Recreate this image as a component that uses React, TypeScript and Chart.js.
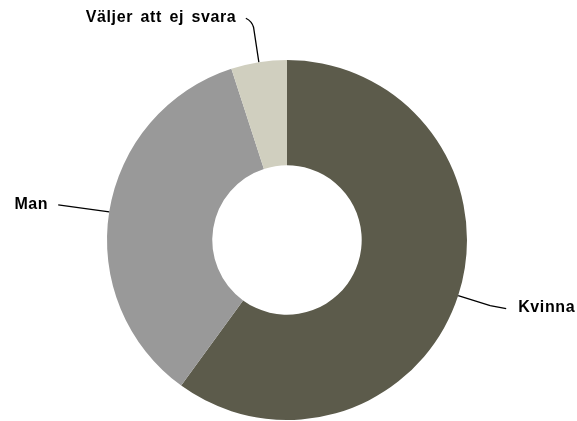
import React, { useEffect, useRef } from "react";
import { Chart, registerables } from "chart.js";

Chart.register(...registerables);

const categories = ["Kvinna", "Man", "Väljer att ej svara"];
const values = [60, 35, 5];
const colors = ["#5c5b4b", "#999999", "#d0cfbf"];

// leader-line routes relative to slice outer-edge midpoint
const leaderPaths: number[][][] = [
  [[32, 10], [48, 13]],
  [[-51, -7]],
  [[-5.3, -35], [-7, -41], [-13, -44]],
];
const labelOffsets: number[][] = [[60, 12], [-61, -7.5], [-22.5, -44.7]];
const labelAlign: CanvasTextAlign[] = ["left", "right", "right"];

const leaderPlugin = {
  id: "leaders",
  afterDraw(chart: any) {
    const ctx = chart.ctx as CanvasRenderingContext2D;
    const meta = chart.getDatasetMeta(0);
    meta.data.forEach((arc: any, i: number) => {
      const p = arc.getProps(["x", "y", "startAngle", "endAngle", "outerRadius"], true);
      const mid = (p.startAngle + p.endAngle) / 2;
      const sx = p.x + Math.cos(mid) * p.outerRadius;
      const sy = p.y + Math.sin(mid) * p.outerRadius;
      ctx.save();
      ctx.strokeStyle = "#000";
      ctx.lineWidth = 1.3;
      ctx.beginPath();
      ctx.moveTo(sx, sy);
      const path = leaderPaths[i];
      if (path.length === 3) {
        ctx.lineTo(sx + path[0][0], sy + path[0][1]);
        ctx.quadraticCurveTo(sx + path[1][0], sy + path[1][1], sx + path[2][0], sy + path[2][1]);
      } else {
        path.forEach((pt) => ctx.lineTo(sx + pt[0], sy + pt[1]));
      }
      ctx.stroke();
      ctx.fillStyle = "#000";
      ctx.font = "bold 16px 'Liberation Sans', Arial, sans-serif";
      (ctx as any).letterSpacing = "0.6px";
      (ctx as any).wordSpacing = "2.5px";
      ctx.textAlign = labelAlign[i];
      ctx.textBaseline = "middle";
      ctx.fillText(categories[i], sx + labelOffsets[i][0], sy + labelOffsets[i][1]);
      ctx.restore();
    });
  },
};

export default function App() {
  const ref = useRef<HTMLCanvasElement | null>(null);
  useEffect(() => {
    document.body.style.margin = "0";
    const chart = new Chart(ref.current!, {
      type: "doughnut",
      data: {
        labels: categories,
        datasets: [
          {
            data: values,
            backgroundColor: colors,
            borderWidth: 0,
          },
        ],
      },
      options: {
        responsive: false,
        animation: false,
        cutout: "41.5%",
        layout: { padding: { top: 60, bottom: 1, left: 107, right: 110 } },
        plugins: { legend: { display: false }, tooltip: { enabled: false } },
      },
      plugins: [leaderPlugin],
    });
    return () => chart.destroy();
  }, []);
  return (
    <div style={{ position: "absolute", left: 0, top: 0, width: 577, height: 421, background: "#fff" }}>
      <canvas ref={ref} width={577} height={421} />
    </div>
  );
}
